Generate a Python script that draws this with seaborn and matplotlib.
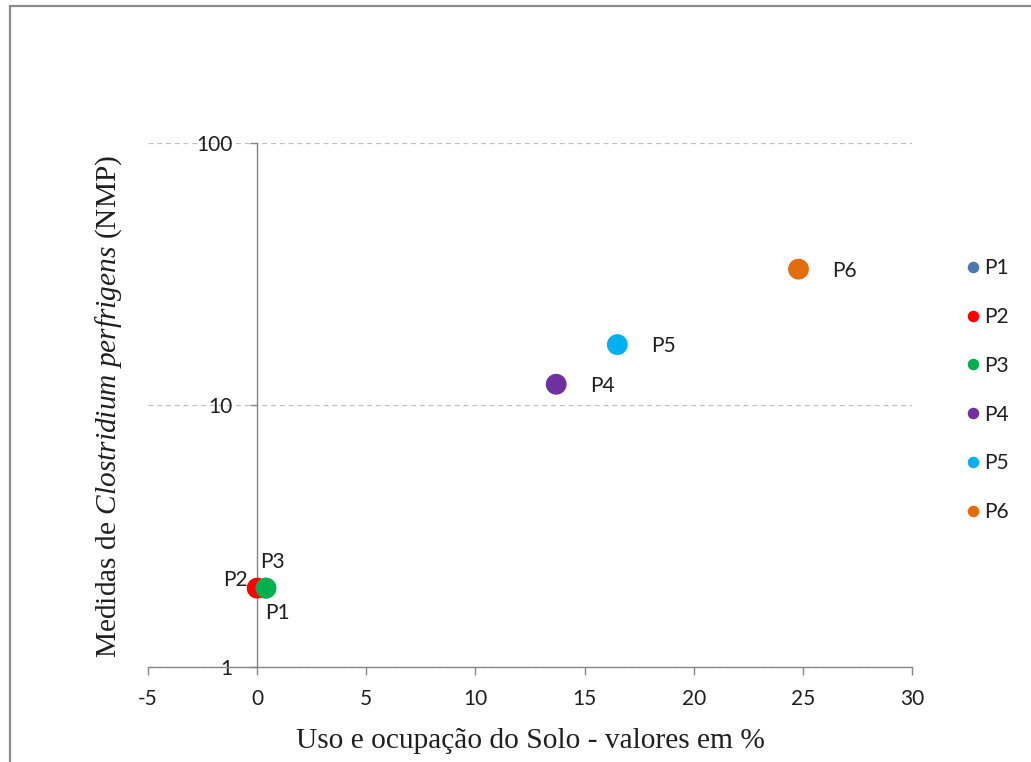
import matplotlib
matplotlib.use("Agg")
import matplotlib.pyplot as plt
from matplotlib.lines import Line2D
from matplotlib.ticker import NullLocator
import pandas as pd
import seaborn as sns

# Sampling points: land use (%) vs. Clostridium perfringens counts (NMP)
pontos = ["P1", "P2", "P3", "P4", "P5", "P6"]
uso_solo = [0.4, 0.0, 0.4, 13.7, 16.5, 24.8]
nmp = [2, 2, 2, 12, 17, 33]
cores = ["#4A76B2", "#FF0000", "#00B050", "#7030A0", "#00B0F0", "#E46C0A"]

x_ticks = [-5, 0, 5, 10, 15, 20, 25, 30]
y_ticks = [1, 10, 100]
y_tick_labels = ["1", "10", "100"]

df = pd.DataFrame({"ponto": pontos, "uso": uso_solo, "nmp": nmp})

sns.set_theme(style="white")
plt.rcParams["font.family"] = ["Lato", "DejaVu Sans"]
plt.rcParams["mathtext.fontset"] = "custom"
plt.rcParams["mathtext.rm"] = "Liberation Serif"
plt.rcParams["mathtext.it"] = "Liberation Serif:italic"

W, H = 1031, 762
fig = plt.figure(figsize=(W / 100, H / 100), dpi=100)
ax = fig.add_axes([148 / W, 1 - 667 / H, (912 - 148) / W, (667 - 143) / H])

axis_gray = "#868686"
text_dark = "#1F1F1F"
fs = 15

sns.scatterplot(
    data=df, x="uso", y="nmp", hue="ponto", hue_order=pontos,
    palette=dict(zip(pontos, cores)), s=225, linewidth=0, ax=ax,
    legend=True, zorder=3,
)

ax.set_yscale("log")
ax.set_xlim(-5, 30)
ax.set_ylim(1, 100)
ax.set_xticks(x_ticks)
ax.set_xticklabels([str(v) for v in x_ticks])
ax.set_yticks(y_ticks)
ax.set_yticklabels(y_tick_labels)
ax.yaxis.set_minor_locator(NullLocator())

# Horizontal dashed gridlines only
ax.yaxis.grid(True, linestyle=(0, (4, 3)), color="#C0C0C0", linewidth=0.9)
ax.xaxis.grid(False)
ax.set_axisbelow(True)

# Vertical axis crosses at x = 0
for side in ("top", "right"):
    ax.spines[side].set_visible(False)
ax.spines["left"].set_position(("data", 0))
for side in ("left", "bottom"):
    ax.spines[side].set_color(axis_gray)
    ax.spines[side].set_linewidth(1.0)

ax.tick_params(axis="x", direction="out", length=6, width=1.0, color=axis_gray,
               labelsize=fs, labelcolor=text_dark, pad=10, bottom=True)
ax.tick_params(axis="y", direction="out", length=5, width=1.0, color=axis_gray,
               labelsize=fs, labelcolor=text_dark, pad=12.5, left=True)

ax.set_xlabel("Uso e ocupação do Solo - valores em %", family="Liberation Serif",
              fontsize=21.2, color=text_dark)
ax.xaxis.set_label_coords(0.5, -0.116)
ax.set_ylabel(r"Medidas de $\mathit{Clostridium\ perfrigens}$ (NMP)",
              family="Liberation Serif", fontsize=21.2, color=text_dark)
ax.yaxis.set_label_coords(-0.032, 0.497)

# Point labels
label_offsets = {
    "P1": ((8, -18), "center"),
    "P2": ((-7, 6), "right"),
    "P3": ((5, 19), "center"),
    "P4": ((24.5, -1), "left"),
    "P5": ((24.5, -1), "left"),
    "P6": ((24.5, -1), "left"),
}
for p, xv, yv in zip(pontos, uso_solo, nmp):
    (dx, dy), ha = label_offsets[p]
    ax.annotate(p, (xv, yv), xytext=(dx, dy), textcoords="offset points",
                ha=ha, va="center", fontsize=fs, color=text_dark, zorder=4)

# Legend on the right
leg = ax.get_legend()
handles = leg.legend_handles
labels = [t.get_text() for t in leg.get_texts()]
leg.remove()
for h in handles:
    h.set_markersize(8.3)
    h.set_markeredgewidth(0)
fig.legend(handles, labels, loc="upper left",
           bbox_to_anchor=(963.5 / W, 1 - 258 / H), frameon=False,
           fontsize=fs, handlelength=0.87, handletextpad=0.1,
           labelspacing=1.385, borderpad=0, borderaxespad=0,
           labelcolor=text_dark)

# Outer chart frame (top and left edges)
frame_kw = dict(color="#8C8C8C", linewidth=1.6, transform=fig.transFigure)
fig.add_artist(Line2D([10 / W, 1.0], [1 - 6 / H, 1 - 6 / H], **frame_kw))
fig.add_artist(Line2D([10 / W, 10 / W], [1 - 6 / H, 0.0], **frame_kw))

fig.savefig("out.png", dpi=100)
